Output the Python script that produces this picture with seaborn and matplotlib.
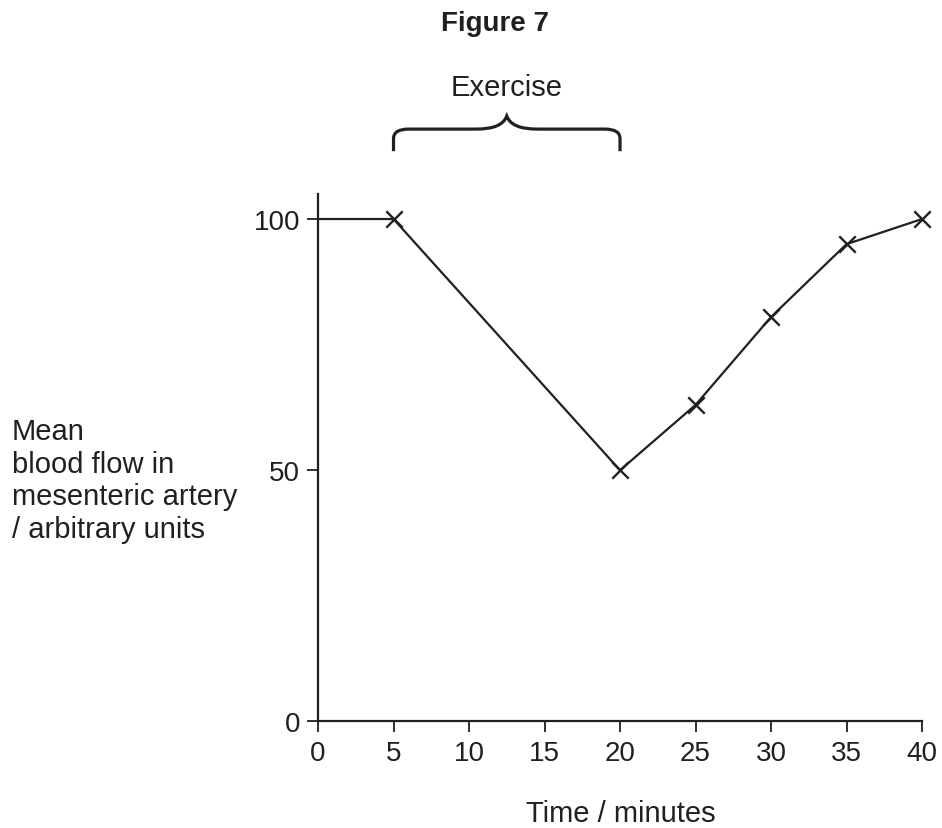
import matplotlib
matplotlib.use("Agg")
import matplotlib.pyplot as plt
import seaborn as sns
import pandas as pd
from matplotlib.path import Path
from matplotlib.patches import PathPatch

# Values
time_min = [0, 5, 20, 25, 30, 35, 40]
blood_flow = [100, 100, 50, 63, 80.5, 95, 100]
x_ticks = [0, 5, 10, 15, 20, 25, 30, 35, 40]
y_ticks = [0, 50, 100]

df = pd.DataFrame({"time": time_min, "flow": blood_flow})
ink = "#231f20"

sns.set_style("ticks")
plt.rcParams["font.family"] = ["Liberation Sans", "DejaVu Sans"]

fig = plt.figure(figsize=(9.42, 8.29), dpi=100)
ax = fig.add_axes([0.3376, 0.1285, 0.6412, 0.6364])

sns.lineplot(data=df, x="time", y="flow", color=ink, linewidth=1.6, ax=ax)
sns.scatterplot(data=df.iloc[1:], x="time", y="flow", marker="x", s=140,
                color=ink, linewidth=1.7, ax=ax, zorder=3, clip_on=False)

ax.set_xlim(0, 40)
ax.set_ylim(0, 105)
ax.set_xticks(x_ticks)
ax.set_yticks(y_ticks)
ax.tick_params(direction="out", length=8, width=1.3, labelsize=20, colors=ink, pad=5)
for s in ["left", "bottom"]:
    ax.spines[s].set_linewidth(1.6)
    ax.spines[s].set_color(ink)
sns.despine(ax=ax)

ax.set_xlabel("Time / minutes", fontsize=21, color=ink)
ax.xaxis.set_label_coords(0.502, -0.147)
ax.set_ylabel("")
fig.text(12 / 942, 1 - 481 / 829,
         "Mean\nblood flow in\nmesenteric artery\n/ arbitrary units",
         fontsize=21, color=ink, ha="left", va="center", linespacing=1.2)

# Exercise brace above the plot
verts = [(5, 113.5), (5, 116), (5, 117.9), (6, 117.9), (10.5, 117.9),
         (12.2, 117.9), (12.5, 120.5), (12.8, 117.9), (14.5, 117.9),
         (19, 117.9), (20, 117.9), (20, 116), (20, 113.5)]
codes = [Path.MOVETO, Path.LINETO, Path.CURVE3, Path.CURVE3, Path.LINETO,
         Path.CURVE3, Path.CURVE3, Path.CURVE3, Path.CURVE3,
         Path.LINETO, Path.CURVE3, Path.CURVE3, Path.LINETO]
ax.add_patch(PathPatch(Path(verts, codes), fill=False, lw=2.3,
                       edgecolor=ink, clip_on=False))
ax.text(12.5, 126.3, "Exercise", fontsize=21, color=ink,
        ha="center", va="center", clip_on=False)

fig.text(495 / 942, 1 - 31 / 829, "Figure 7", fontsize=20, fontweight="bold",
         color=ink, ha="center", va="baseline")

fig.savefig("out.png", dpi=100, facecolor="white")
